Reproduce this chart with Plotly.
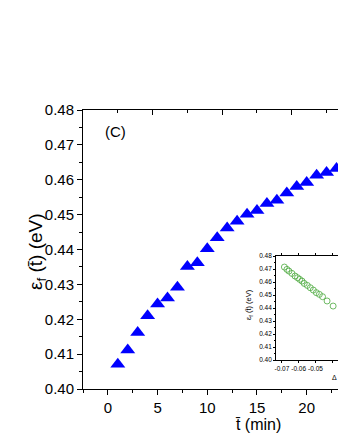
import plotly.graph_objects as go

# main panel: formation energy vs mean time
t_min = [1, 2, 3, 4, 5, 6, 7, 8, 9, 10, 11, 12, 13, 14, 15, 16, 17, 18, 19, 20, 21, 22, 23]
eps_f = [0.4071, 0.4112, 0.4162, 0.4210, 0.4244, 0.4261, 0.4292, 0.4351, 0.4362, 0.4402,
         0.4434, 0.4462, 0.4481, 0.4501, 0.4512, 0.4532, 0.4541, 0.4562, 0.4581, 0.4592,
         0.4613, 0.4621, 0.4632]

# inset: eps_f vs delta
inset_dx = [-0.0685, -0.0670, -0.0658, -0.0640, -0.0622, -0.0607, -0.0594, -0.0580, -0.0567,
            -0.0549, -0.0531, -0.0513, -0.0495, -0.0477, -0.0458, -0.0431, -0.0395]
inset_eps = [0.4715, 0.4697, 0.4684, 0.4666, 0.4646, 0.4633, 0.4620, 0.4607, 0.4589,
             0.4574, 0.4556, 0.4538, 0.4518, 0.4505, 0.4487, 0.4454, 0.4415]

x_ticks = [0, 5, 10, 15, 20]
y_ticks = [0.40, 0.41, 0.42, 0.43, 0.44, 0.45, 0.46, 0.47, 0.48]
top_major = [4.5, 11.5, 18.5]
top_minor = [1, 8, 15, 22]
inset_x_ticks = [-0.07, -0.06, -0.05, -0.04]
inset_x_labels = ["-0.07", "-0.06", "-0.05", "-0.04"]

FONT = "Liberation Sans, Arial, sans-serif"
W, H = 338, 437
L, T, B = 83, 110, 48
PW, PH = W - L, H - T - B


def px(x):
    return (x - L) / PW


def py(y):
    return (H - B - y) / PH


fig = go.Figure()
fig.add_trace(go.Scatter(x=t_min, y=eps_f, mode="markers",
                         marker=dict(symbol="triangle-up", size=13, color="#0000ff",
                                     line=dict(width=0)),
                         xaxis="x", yaxis="y", showlegend=False))
fig.add_trace(go.Scatter(x=inset_dx, y=inset_eps, mode="markers",
                         marker=dict(symbol="circle-open", size=6, color="#4aa83c",
                                     line=dict(width=0.8)),
                         xaxis="x3", yaxis="y3", showlegend=False))
# empty trace so the top axis gets drawn
fig.add_trace(go.Scatter(x=[None], y=[None], xaxis="x2", yaxis="y", showlegend=False))

axcommon = dict(showgrid=False, zeroline=False, showline=True, linecolor="black",
                linewidth=1, tickcolor="black", automargin=False,
                tickfont=dict(family=FONT, size=15, color="black"))
inset_common = dict(showgrid=False, zeroline=False, showline=True, linecolor="black",
                    linewidth=0.8, tickcolor="black", tickwidth=0.6, automargin=False,
                    tickformat=".2f", tickangle=0,
                    tickfont=dict(family=FONT, size=6.5, color="black"))

fig.update_layout(
    width=W, height=H,
    margin=dict(l=L, r=0, t=T, b=B),
    paper_bgcolor="white", plot_bgcolor="white",
    font=dict(family=FONT, color="black"),
    xaxis=dict(range=[-2.5, 23.15], tickvals=x_ticks, ticks="outside", ticklen=5,
               minor=dict(dtick=2.5, ticks="outside", ticklen=3, tickcolor="black"),
               **axcommon),
    xaxis2=dict(range=[-2.5, 23.15], overlaying="x", side="top", tickvals=top_major,
                ticks="inside", ticklen=5, showticklabels=False,
                minor=dict(tickvals=top_minor, ticks="inside", ticklen=3, tickcolor="black"),
                **axcommon),
    yaxis=dict(range=[0.40, 0.48], tickvals=y_ticks, tickformat=".2f", ticks="outside",
               ticklen=5, minor=dict(dtick=0.005, ticks="outside", ticklen=3, tickcolor="black"),
               **axcommon),
    xaxis3=dict(domain=[px(276), 1.0], anchor="y3", range=[-0.0735, -0.0366],
                tickvals=inset_x_ticks, ticktext=inset_x_labels, ticks="outside", ticklen=2,
                mirror="ticks", **inset_common),
    yaxis3=dict(domain=[py(360), py(256)], anchor="x3", range=[0.40, 0.48], tickvals=y_ticks,
                ticks="outside", ticklen=2,
                minor=dict(dtick=0.005, ticks="outside", ticklen=1, tickcolor="black"),
                **inset_common),
)

fig.add_annotation(text="(C)", x=px(103), y=py(131), xref="paper", yref="paper",
                   xanchor="left", yanchor="middle", showarrow=False,
                   font=dict(family=FONT, size=15))
fig.add_annotation(text="t\u0304 (min)", x=px(258), y=py(424),
                   xref="paper", yref="paper", xanchor="center", yanchor="middle",
                   showarrow=False, font=dict(family=FONT, size=16))
fig.add_annotation(text="\u03b5<sub>f</sub> (t\u0304) (eV)", x=px(37), y=py(252),
                   xref="paper", yref="paper", xanchor="center", yanchor="middle",
                   textangle=-90, showarrow=False, font=dict(family=FONT, size=19))
# inset labels
fig.add_annotation(text="\u03b5<sub>f</sub> (t\u0304) (eV)", x=px(249), y=py(305),
                   xref="paper", yref="paper", xanchor="center", yanchor="middle",
                   textangle=-90, showarrow=False, font=dict(family=FONT, size=7.5))
fig.add_annotation(text="\u0394 \u03bc (eV)", x=px(330), y=py(378), xref="paper",
                   yref="paper", xanchor="left", yanchor="middle", showarrow=False,
                   font=dict(family=FONT, size=7))

# page body has a default margin; drop it so the figure sits at the window corner
fig.write_html("out.html", config={"displayModeBar": False},
               post_script="document.body.style.margin='0';")
